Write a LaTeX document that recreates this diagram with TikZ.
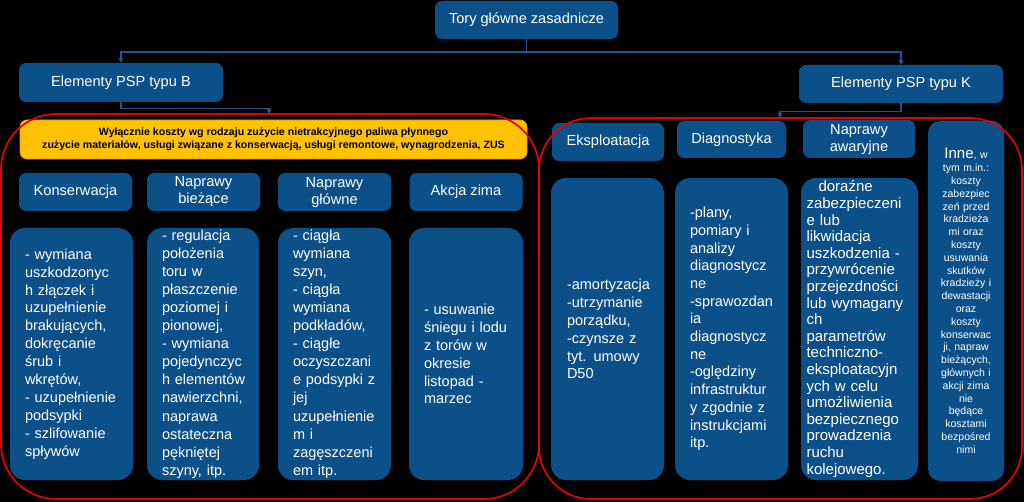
\documentclass[tikz,border=0pt]{standalone}
\usepackage{fontspec}
\setmainfont{Liberation Sans}
\usetikzlibrary{arrows.meta}
\definecolor{boxblue}{RGB}{12,80,138}
\definecolor{linkblue}{RGB}{38,84,138}
\definecolor{framered}{RGB}{232,0,0}
\definecolor{gold}{RGB}{255,194,0}
\definecolor{goldedge}{RGB}{226,150,20}

\begin{document}
\begin{tikzpicture}[x=1pt,y=-1pt,
  box/.style={fill=boxblue,text=white,rounded corners=7pt,inner sep=0pt,align=center,
    font=\fontsize{14.6}{17}\selectfont},
  body/.style={box,rounded corners=15pt,align=left,
    font=\fontsize{14.5}{17.9}\selectfont,
    execute at begin node={\leftskip=14pt\hyphenpenalty=10000\relax}},
  conn/.style={draw=linkblue,line width=1.1pt,-{Triangle[length=4.5pt,width=5pt]}},
  frame/.style={draw=framered,line width=1.7pt,rounded corners=55pt}]
  \fill[black] (0,0) rectangle (1024,502);
  \useasboundingbox (0,0) rectangle (1024,502);

  % top level
  \node[box,minimum width=183,minimum height=38] (tory) at (526.5,20) {Tory główne zasadnicze};
  \node[box,minimum width=204,minimum height=39] (elB) at (121,82.5) {Elementy PSP typu B};
  \node[box,minimum width=204,minimum height=38] (elK) at (901,84) {Elementy PSP typu K};
  \coordinate (split) at (526.5,52);
  \draw[conn] (tory.south) -- (split) -| (elB.north);
  \draw[conn] (split) -| (elK.north);

  % typ B
  \node[fill=gold,draw=goldedge,line width=0.8pt,rounded corners=7pt,minimum width=507,minimum height=39,
    align=center,font=\fontsize{10.6}{13}\selectfont\bfseries] (koszty) at (273.5,139.5)
    {Wyłącznie koszty wg  rodzaju zużycie nietrakcyjnego paliwa  płynnego\\
     zużycie materiałów, usługi związane z konserwacją, usługi remontowe, wynagrodzenia, ZUS};
  \coordinate (inB) at (269,114);
  \draw[conn] (elB.south) -- ++(0,6) -| (inB);

  \foreach \n/\x/\t in {kons/75.5/Konserwacja,biez/203.5/{Naprawy\\bieżące},
                        glow/334.5/{Naprawy\\główne},zima/466/Akcja zima}
    \node[box,minimum width=113,minimum height=38] (h\n) at (\x,192) {\t};

  \node[body,text width=121,minimum width=123,minimum height=252] (bkons) at (71.5,354)
    {- wymiana\\uszkodzonyc\\h złączek i\\uzupełnienie\\brakujących,\\dokręcanie\\śrub i\\wkrętów,\\- uzupełnienie\\podsypki\\- szlifowanie\\spływów};
  \node[body,text width=110,minimum width=112,minimum height=252,font=\fontsize{14.5}{18.1}\selectfont] (bbiez) at (203,354)
    {- regulacja\\położenia\\toru w\\płaszczenie\\poziomej i\\pionowej,\\- wymiana\\pojedynczyc\\h elementów\\nawierzchni,\\naprawa\\ostateczna\\pękniętej\\szyny,  itp.};
  \node[body,text width=111,minimum width=113,minimum height=252,font=\fontsize{14.5}{18.1}\selectfont] (bglow) at (334.5,354)
    {- ciągła\\wymiana\\szyn,\\- ciągła\\wymiana\\podkładów,\\- ciągłe\\oczyszczani\\e podsypki z\\jej\\uzupełnienie\\m i\\zagęszczeni\\em itp.};
  \node[body,text width=112,minimum width=114,minimum height=252] (bzima) at (466,354)
    {- usuwanie\\śniegu i lodu\\z torów w\\okresie\\listopad -\\marzec};

  % typ K
  \coordinate (inK) at (780,118);
  \draw[conn] (elK.south) -- ++(0,8) -| (inK);
  \node[box,minimum width=112,minimum height=38] (heksp) at (608,142) {Eksploatacja};
  \node[box,minimum width=109,minimum height=37] (hdiag) at (731.5,139.5) {Diagnostyka};
  \node[box,minimum width=112,minimum height=38] (hawar) at (859,139) {Naprawy\\awaryjne};
  \node[box,rounded corners=12pt,text width=74,minimum width=76,minimum height=360,
    font=\fontsize{10.5}{12.8}\selectfont] (inne) at (966,301)
    {{\fontsize{15}{16}\selectfont Inne}, w\\tym m.in.:\\koszty\\zabezpiec\\zeń przed\\kradzieża\\mi oraz\\koszty\\usuwania\\skutków\\kradzieży i\\dewastacji\\oraz\\koszty\\konserwac\\ji, napraw\\bieżących,\\głównych i\\akcji zima\\nie\\będące\\kosztami\\bezpośred\\nimi};

  \node[body,text width=111,minimum width=113,minimum height=302,
    execute at begin node={\leftskip=15pt}] (beksp) at (607.5,329)
    {-amortyzacja\\-utrzymanie\\porządku,\\-czynsze z\\tyt. umowy\\D50};
  \node[body,text width=111,minimum width=113,minimum height=302,font=\fontsize{14.5}{17.7}\selectfont] (bdiag) at (731.5,329)
    {-plany,\\pomiary i\\analizy\\diagnostycz\\ne\\-sprawozdan\\ia\\diagnostycz\\ne\\-oględziny\\infrastruktur\\y zgodnie z\\instrukcjami\\itp.};
  \node[body,text width=116,minimum width=117,minimum height=302,font=\fontsize{15}{16.6}\selectfont,
    execute at begin node={\leftskip=5pt}] (bawar) at (859.5,329)
    {\hspace*{12pt}doraźne\\zabezpieczeni\\e lub\\likwidacja\\uszkodzenia -\\przywrócenie\\przejezdności\\lub wymagany\\ch\\parametrów\\techniczno-\\eksploatacyjn\\ych w celu\\umożliwienia\\bezpiecznego\\prowadzenia\\ruchu\\kolejowego.};

  % red frames
  \draw[frame] (1,114) rectangle (539,499);
  \draw[frame,rounded corners=52pt] (539,118) rectangle (1022,499);
\end{tikzpicture}
\end{document}
